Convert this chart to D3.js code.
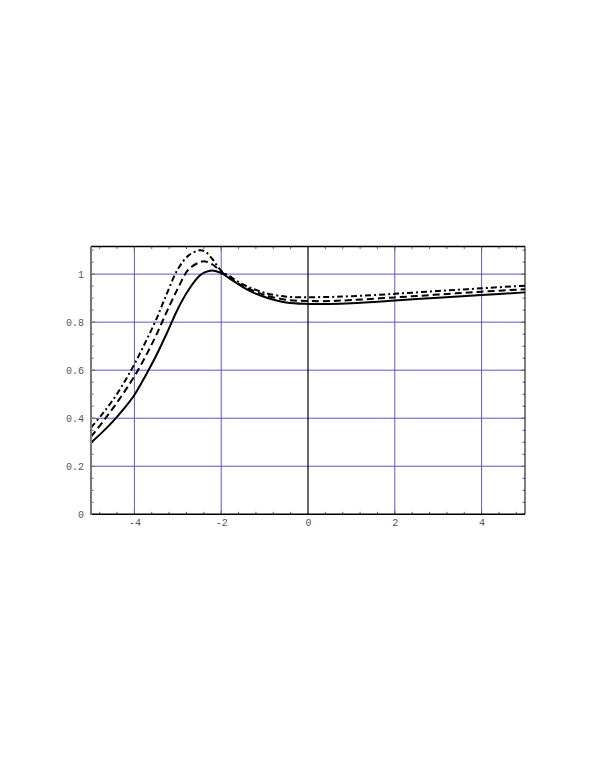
<!DOCTYPE html>
<meta charset="utf-8">
<script src="https://cdn.jsdelivr.net/npm/d3@7"></script>
<style>
    body { margin: 0; background: #fff; }
    .tick text { font-family: "Liberation Mono", "DejaVu Sans Mono", monospace; font-size: 10px; fill: #555; }
</style>
<body>
<script>

    // curve samples
    var xs = [-5, -4.75, -4.5, -4.25, -4, -3.75, -3.5, -3.25, -3, -2.75, -2.5, -2.37, -2.2, -2, -1.75, -1.5, -1.25, -1, -0.5, 0, 0.5, 1, 2, 3, 4, 5]
    var solid   = [0.298, 0.34, 0.386, 0.438, 0.497, 0.575, 0.66, 0.755, 0.855, 0.935, 0.993, 1.008, 1.015, 1.004, 0.975, 0.946, 0.922, 0.905, 0.882, 0.876, 0.876, 0.879, 0.890, 0.902, 0.913, 0.924]
    var dashed  = [0.323, 0.38, 0.44, 0.505, 0.575, 0.655, 0.745, 0.845, 0.94, 1.02, 1.049, 1.053, 1.04, 1.01, 0.978, 0.95, 0.93, 0.913, 0.893, 0.888, 0.888, 0.892, 0.903, 0.915, 0.927, 0.937]
    var dashdot = [0.361, 0.415, 0.475, 0.545, 0.625, 0.715, 0.81, 0.92, 1.02, 1.078, 1.099, 1.094, 1.062, 1.014, 0.985, 0.957, 0.938, 0.922, 0.906, 0.904, 0.905, 0.908, 0.918, 0.93, 0.941, 0.952]

    var xTicks = [-4, -2, 0, 2, 4]
    var yTicks = [0, 0.2, 0.4, 0.6, 0.8, 1]
    var xGrid = [-4, -2, 2, 4]
    var yGrid = [0.2, 0.4, 0.6, 0.8, 1]

    var W = 595, H = 770
    var pLeft = 91, pRight = 525, pTop = 246.5, pBottom = 514.3

    var x = d3.scaleLinear().domain([-5, 5]).range([pLeft, pRight])
    var y = d3.scaleLinear().domain([0, 1.115]).range([pBottom, pTop])

    var svg = d3.select("body").append("svg").attr("width", W).attr("height", H)

    // grid
    svg.append("g").selectAll("line").data(xGrid).enter().append("line")
        .attr("x1", d => x(d)).attr("x2", d => x(d)).attr("y1", pTop).attr("y2", pBottom)
        .style("stroke", "#4a4ab4").style("stroke-width", 0.9)
    svg.append("g").selectAll("line").data(yGrid).enter().append("line")
        .attr("x1", pLeft).attr("x2", pRight).attr("y1", d => y(d)).attr("y2", d => y(d))
        .style("stroke", "#4a4ab4").style("stroke-width", 0.9)
    // x = 0 axis line
    svg.append("line").attr("x1", x(0)).attr("x2", x(0)).attr("y1", pTop).attr("y2", pBottom)
        .style("stroke", "#000").style("stroke-width", 1.2)

    // minor ticks every 0.4 on x, 0.05 on y
    var xMinor = d3.range(-4.8, 5.0, 0.4).filter(v => Math.abs(v / 2 - Math.round(v / 2)) > 0.01)
    var yMinor = d3.range(0.05, 1.115, 0.05).filter(v => Math.abs(v / 0.2 - Math.round(v / 0.2)) > 0.01)

    var bottomAxis = d3.axisBottom(x).tickValues(xTicks).tickSize(0).tickPadding(5).tickFormat(d => d < 0 ? "-" + (-d) : d)
    var leftAxis = d3.axisLeft(y).tickValues(yTicks).tickSize(0).tickPadding(7).tickFormat(d => d == 0 || d == 1 ? d : d3.format(".1f")(d))

    var gb = svg.append("g").attr("transform", "translate(0," + pBottom + ")").call(bottomAxis)
    gb.select(".domain").remove()
    var gl = svg.append("g").attr("transform", "translate(" + pLeft + ",0)").call(leftAxis)
    gl.select(".domain").remove()

    // tick marks on all four sides, pointing inward
    var tickCol = "#666"
    function xTickMarks(vals, len, yPos, dir) {
        svg.append("g").selectAll("line").data(vals).enter().append("line")
            .attr("x1", d => x(d)).attr("x2", d => x(d)).attr("y1", yPos).attr("y2", yPos + dir * len)
            .style("stroke", tickCol).style("stroke-width", 1)
    }
    function yTickMarks(vals, len, xPos, dir) {
        svg.append("g").selectAll("line").data(vals).enter().append("line")
            .attr("y1", d => y(d)).attr("y2", d => y(d)).attr("x1", xPos).attr("x2", xPos + dir * len)
            .style("stroke", tickCol).style("stroke-width", 1)
    }
    xTickMarks(xTicks, 4, pBottom, -1)
    xTickMarks(xMinor, 2.5, pBottom, -1)
    xTickMarks(xTicks, 4, pTop, 1)
    xTickMarks(xMinor, 2.5, pTop, 1)
    yTickMarks(yTicks, 4, pLeft, 1)
    yTickMarks(yMinor, 2.5, pLeft, 1)
    yTickMarks(yTicks, 4, pRight, -1)
    yTickMarks(yMinor, 2.5, pRight, -1)

    // curves
    var series = [
        {vals: solid, dash: null},
        {vals: dashed, dash: "7,4"},
        {vals: dashdot, dash: "6,3,2,3"}
    ]
    var line = d3.line().x(d => x(d[0])).y(d => y(d[1])).curve(d3.curveCatmullRom.alpha(0.5))
    series.forEach(s => {
        svg.append("path").datum(xs.map((v, i) => [v, s.vals[i]]))
            .attr("d", line).style("fill", "none").style("stroke", "#000").style("stroke-width", 2)
            .style("stroke-dasharray", s.dash)
    })

    // frame
    svg.append("line").attr("x1", pLeft).attr("x2", pRight).attr("y1", pTop).attr("y2", pTop).style("stroke", "#000").style("stroke-width", 1.3)
    svg.append("line").attr("x1", pRight).attr("x2", pRight).attr("y1", pTop).attr("y2", pBottom).style("stroke", "#000").style("stroke-width", 1)
    svg.append("line").attr("x1", pLeft).attr("x2", pRight).attr("y1", pBottom).attr("y2", pBottom).style("stroke", "#000").style("stroke-width", 1.5)
    svg.append("line").attr("x1", pLeft).attr("x2", pLeft).attr("y1", pTop).attr("y2", pBottom + 0.7).style("stroke", "#777").style("stroke-width", 2)

</script>
</body>
